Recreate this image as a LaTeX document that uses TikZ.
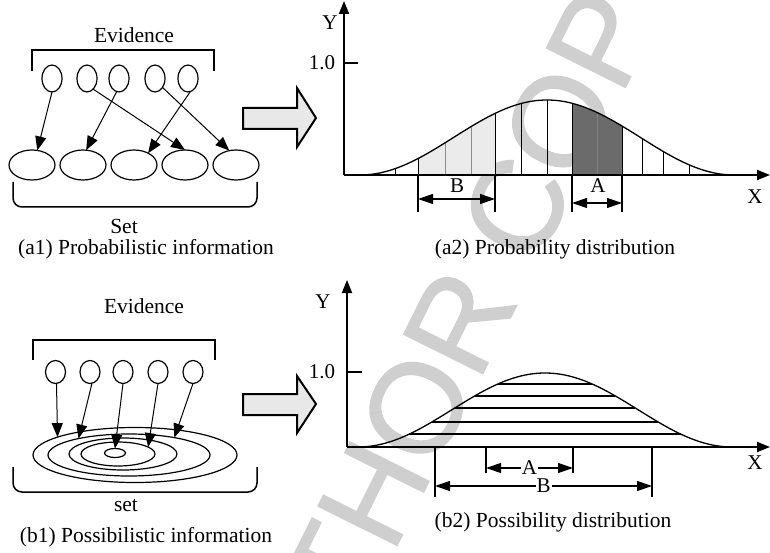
\documentclass[tikz,border=0pt]{standalone}
\usepackage{fontspec}
\setmainfont{Liberation Serif}
\newfontfamily\wmfont{Liberation Sans}[FakeBold=1.2]
\usetikzlibrary{arrows.meta,shapes.geometric}

\tikzset{
 txt/.style={font=\fontsize{21.5}{24}\selectfont, inner sep=0pt},
 lbl/.style={font=\fontsize{21}{23}\selectfont, inner sep=0pt},
 evid/.style={ellipse, draw, line width=1.2pt, minimum width=20pt, minimum height=27pt, inner sep=0pt, outer sep=0pt},
 evidb/.style={ellipse, draw, line width=1.2pt, minimum width=20pt, minimum height=23pt, inner sep=0pt, outer sep=0pt},
 setel/.style={ellipse, draw, line width=1.2pt, minimum width=46pt, minimum height=30pt, inner sep=0pt, outer sep=0pt},
 ring/.style={ellipse, draw, line width=1.2pt, inner sep=0pt, outer sep=0pt},
 link/.style={line width=1pt, -{Triangle[length=14pt,width=11pt]}},
 brk/.style={line width=1.5pt},
 axisline/.style={line width=1.8pt, -{Triangle[length=13pt,width=10pt]}},
 dimarrow/.style={line width=1.2pt, {Triangle[length=15pt,width=10pt]}-{Triangle[length=15pt,width=10pt]}},
 ext/.style={line width=1.2pt},
 blockarrow/.style={draw, line width=2pt, fill=black!9, line join=miter},
 curve/.style={line width=1.3pt},
 wm/.style={text=black!19, font=\wmfont\fontsize{128}{128}\selectfont, inner sep=0pt},
}

\begin{document}
\begin{tikzpicture}[x=1pt,y=-1pt]
\useasboundingbox (0,0) rectangle (770,553);

% watermark
\node[wm, rotate=63.5, anchor=base west] (wmark) at (278,784) {AUTHOR COPY};

% ---------- (a1) ----------
\node[txt] (ev1) at (134,35) {Evidence};
\draw[brk] (32,71) -- (32,50) -- (214,50) -- (214,71);
\node[evid] (e1) at (52,78.5) {};
\node[evid] (e2) at (87,78.5) {};
\node[evid] (e3) at (119,78.5) {};
\node[evid] (e4) at (155,78.5) {};
\node[evid] (e5) at (188,78.5) {};
\node[setel] (s1) at (32,165) {};
\node[setel] (s2) at (83,165) {};
\node[setel] (s3) at (134,165) {};
\node[setel] (s4) at (185,165) {};
\node[setel] (s5) at (236,165) {};
\draw[link] (e1.south) -- (s1.70);
\draw[link] (e2.-60) -- (s4.north);
\draw[link] (e3.-100) -- (s2.78);
\draw[link] (e4.-50) -- (s5.115);
\draw[link] (e5.-80) -- (s3.40);
\draw[brk, rounded corners=9pt] (13,182) -- (13,207) -- (257,207) -- (257,182);
\node[txt] (set1) at (124,226) {Set};
\node[txt] (cap1) at (146,249) {(a1) Probabilistic information};

% block arrow a
\draw[blockarrow] (243,108) -- (297,108) -- (297,88) -- (316,118) -- (297,147) -- (297,129) -- (243,129) -- cycle;

% ---------- (a2) ----------
\fill[black!8] (418,175) -- plot[domain=418:495, samples=30] (\x,{175-37.5*(1+cos((\x-547)/187*180))}) -- (495,175) -- cycle;
\fill[black!58] (572,175) -- plot[domain=572:622, samples=30] (\x,{175-37.5*(1+cos((\x-547)/187*180))}) -- (622,175) -- cycle;
\foreach \xx in {395,418,495,521,547,572,622,642,663,689}
  \draw[line width=1pt] (\xx,175) -- (\xx,{175-37.5*(1+cos((\xx-547)/187*180))});
\foreach \xx in {445,471}
  \draw[line width=1pt, black!45] (\xx,175) -- (\xx,{175-37.5*(1+cos((\xx-547)/187*180))});
\draw[line width=0.6pt, black!50] (597,175) -- (597,{175-37.5*(1+cos((597-547)/187*180))});
\draw[curve] plot[domain=360:734, samples=120] (\x,{175-37.5*(1+cos((\x-547)/187*180))});
\draw[axisline] (344,175) -- (344,1);
\draw[axisline] (344,175) -- (770,175);
\draw[ext] (344,63) -- (358,63);
\node[lbl] (ya) at (330,23) {Y};
\node[lbl] (onea) at (322,63) {1.0};
\node[lbl] (xa) at (755,197) {X};
\draw[ext] (418,175) -- (418,212);
\draw[ext] (495,175) -- (495,212);
\draw[ext] (572,175) -- (572,212);
\draw[ext] (622,175) -- (622,212);
\coordinate (bl) at (418,199);
\coordinate (br) at (495,199);
\coordinate (al) at (572,203);
\coordinate (ar) at (622,203);
\draw[dimarrow] (bl) -- (br);
\draw[dimarrow] (al) -- (ar);
\node[lbl] (blab) at (457,186) {B};
\node[lbl] (alab) at (598,186) {A};
\node[txt] (cap2) at (555,249) {(a2) Probability distribution};

% ---------- (b1) ----------
\node[txt] (ev2) at (144,306) {Evidence};
\draw[brk] (33,360) -- (33,340) -- (215,340) -- (215,360);
\node[evidb] (f1) at (55.5,372) {};
\node[evidb] (f2) at (90,372) {};
\node[evidb] (f3) at (123,372) {};
\node[evidb] (f4) at (158,372) {};
\node[evidb] (f5) at (193,372) {};
\node[ring, minimum width=204pt, minimum height=55pt] (o1) at (135,455) {};
\node[ring, minimum width=162pt, minimum height=42pt] (o2) at (129,455) {};
\node[ring, minimum width=108pt, minimum height=32pt] (o3) at (123,454) {};
\node[ring, minimum width=74pt, minimum height=24pt] (o4) at (118,454) {};
\node[ring, minimum width=21pt, minimum height=9pt] (o5) at (115,453) {};
\draw[link] (f1.-85) -- (o1.167);
\draw[link] (f2.-80) -- (o2.162);
\draw[link] (f3.south) -- (o5.north);
\draw[link] (f4.south) -- (o4.13);
\draw[link] (f5.south) -- (o2.21);
\draw[brk, rounded corners=9pt] (13,467) -- (13,492) -- (257,492) -- (257,467);
\node[txt] (set2) at (126,506) {set};
\node[txt] (cap3) at (146,537) {(b1) Possibilistic information};

% block arrow b
\draw[blockarrow] (243,394) -- (297,394) -- (297,376) -- (316,404) -- (297,433) -- (297,415) -- (243,415) -- cycle;

% ---------- (b2) ----------
\foreach \h in {63,51,39,25,13} {
  \pgfmathsetmacro\dx{acos(2*\h/74-1)/180*187}
  \draw[line width=1.2pt] ({545-\dx},{447-\h}) -- ({545+\dx},{447-\h});
}
\draw[curve] plot[domain=358:732, samples=120] (\x,{447-37*(1+cos((\x-545)/187*180))});
\draw[axisline] (347,447) -- (347,280);
\draw[axisline] (347,447) -- (770,447);
\draw[ext] (347,372) -- (362,372);
\node[lbl] (yb) at (323,302) {Y};
\node[lbl] (oneb) at (322,372) {1.0};
\node[lbl] (xb) at (755,463) {X};
\draw[ext] (486,447) -- (486,473);
\draw[ext] (573,447) -- (573,473);
\draw[ext] (435,447) -- (435,497);
\draw[ext] (652,447) -- (652,497);
\coordinate (pal) at (486,468);
\coordinate (par) at (573,468);
\coordinate (pbl) at (435,486);
\coordinate (pbr) at (652,486);
\draw[dimarrow] (pal) -- node[lbl, fill=white, inner xsep=1pt] (alab2) {A} (par);
\draw[dimarrow] (pbl) -- node[lbl, fill=white, inner xsep=1pt] (blab2) {B} (pbr);
\node[txt] (cap4) at (553,522) {(b2) Possibility distribution};
\end{tikzpicture}
\end{document}
